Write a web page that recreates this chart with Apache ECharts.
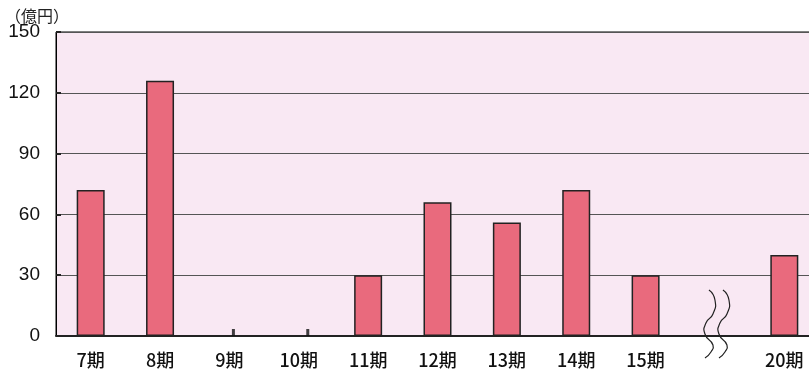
<!DOCTYPE html>
<html>
<head>
<meta charset="utf-8">
<script src="https://cdn.jsdelivr.net/npm/echarts@6/dist/echarts.min.js"></script>
<style>html,body{margin:0;padding:0;background:#fff}#c{width:809px;height:372px}</style>
</head>
<body>
<div id="c"></div>
<script>
const categories = ['7期','8期','9期','10期','11期','12期','13期','14期','15期','','20期'];
const values = [72, 126, null, null, 30, 66, 56, 72, 30, null, 40];
const zeroMarks = [null, null, 0, 0, null, null, null, null, null, null, null];
const yTicks = [0, 30, 60, 90, 120, 150];
const unitLabel = '（億円）';

const chart = echarts.init(document.getElementById('c'), null, {renderer: 'canvas'});
const font = '"Noto Sans CJK JP", "Liberation Sans", sans-serif';
const markOffsets = {2: [4, -3.5], 3: [9, -3.5]};

chart.setOption({
  animation: false,
  grid: {left: 56, top: 32, bottom: 36, width: 763, show: true, outerBoundsMode: 'none', containLabel: false,
         backgroundColor: '#F9E8F3', borderColor: '#000', borderWidth: 1},
  title: {text: unitLabel, left: 0, top: 3,
          textStyle: {fontSize: 16, fontWeight: 'normal', color: '#222', fontFamily: font}},
  xAxis: {
    type: 'category', data: categories,
    axisLine: {show: true, lineStyle: {color: '#222', width: 2}},
    axisTick: {show: false},
    axisLabel: {color: '#111', fontSize: 18, fontWeight: 500, fontFamily: font, margin: 15}
  },
  yAxis: {
    type: 'value', min: yTicks[0], max: yTicks[yTicks.length - 1], interval: 30,
    axisLine: {show: true, lineStyle: {color: '#000', width: 1}},
    axisTick: {show: true, inside: true, length: 5, lineStyle: {color: '#222', width: 2}},
    axisLabel: {color: '#111', fontSize: 19, fontFamily: '"Liberation Sans", Arial, sans-serif', margin: 16},
    splitLine: {show: true, lineStyle: {color: '#555', width: 1}}
  },
  series: [
    {type: 'bar', data: values, barWidth: 28,
     itemStyle: {color: '#E96A7D', borderColor: '#222', borderWidth: 1.5}},
    {type: 'scatter', symbol: 'rect', symbolSize: [3, 7], z: 5,
     data: zeroMarks.map((v, i) => v === null ? null : {value: v, symbolOffset: markOffsets[i] || [0, -3.5]}),
     itemStyle: {color: '#111'}}
  ]
});

const bx = chart.convertToPixel({xAxisIndex: 0}, 9);
const by = chart.convertToPixel({yAxisIndex: 0}, 0);
const wavePts = [[0,0],[6,10],[4,24],[-3,33],[-4,44],[4,55],[2,62],[-4,68]];
function wave(dx) {
  return {type: 'polyline', x: bx + dx, y: by - 46, z: 10,
          shape: {points: wavePts, smooth: 0.6},
          style: {fill: null, stroke: '#222', lineWidth: 1.2}};
}
chart.setOption({graphic: [wave(-6), wave(8)]});
</script>
</body>
</html>
